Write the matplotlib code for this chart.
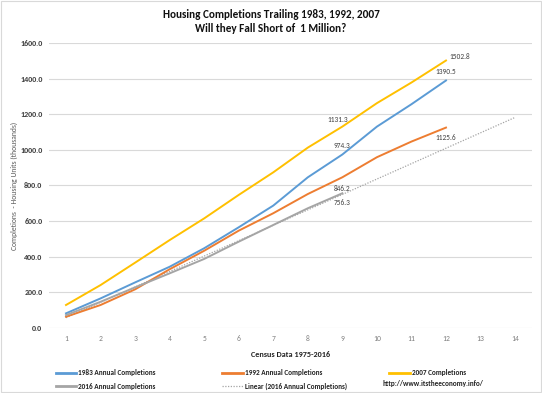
import numpy as np
import matplotlib.pyplot as plt
from matplotlib.lines import Line2D
from matplotlib.patches import Rectangle

plt.rcParams['font.family'] = ['Carlito', 'Lato', 'DejaVu Sans']

# --- datos (miles de viviendas, acumulado) ---
years = np.arange(1, 13)
c1983 = [81, 165, 255, 343, 447, 565, 687, 846, 974.3, 1131, 1257, 1390.5]
c1992 = [62, 128, 216, 329, 433, 546, 644, 752, 846.2, 959, 1047, 1125.6]
c2007 = [128, 240, 366, 493, 615, 747, 874, 1013, 1131.3, 1263, 1379, 1502.8]
years_2016 = np.arange(1, 10)
c2016 = [71, 146, 227, 306, 387, 484, 578, 672, 756.3]
trend_x = np.arange(1, 15)

blue = '#5B9BD5'
orange = '#ED7D31'
yellow = '#FFC000'
gray = '#A5A5A5'
dotted = (0, (1, 1.2))

fig = plt.figure(figsize=(5.42, 3.93), dpi=100)
ax = fig.add_axes([0.0899, 0.166, 0.8923, 0.724])

# tendencia lineal de 2016
m, b = np.polyfit(years_2016, c2016, 1)
ax.plot(trend_x, m * trend_x + b, color=gray, lw=0.9, ls=dotted, zorder=2)

ax.plot(years, c1983, color=blue, lw=1.4, zorder=3)
ax.plot(years, c1992, color=orange, lw=1.4, zorder=3)
ax.plot(years, c2007, color=yellow, lw=1.4, zorder=3)
ax.plot(years_2016, c2016, color=gray, lw=1.4, zorder=3)

# etiquetas de valores
lab = dict(textcoords='offset pixels', fontsize=5.3, color='#404040', ha='center', va='center')
ax.annotate(f'{c2007[8]:.1f}', (9, c2007[8]), xytext=(-5, 7), **lab)
ax.annotate(f'{c1983[8]:.1f}', (9, c1983[8]), xytext=(0, 9), **lab)
ax.annotate(f'{c1992[8]:.1f}', (9, c1992[8]), xytext=(0, -11), **lab)
ax.annotate(f'{c2016[8]:.1f}', (9, c2016[8]), xytext=(0, -9), **lab)
ax.annotate(f'{c2007[11]:.1f}', (12, c2007[11]), xytext=(14, 4), **lab)
ax.annotate(f'{c1983[11]:.1f}', (12, c1983[11]), xytext=(0, 9), **lab)
ax.annotate(f'{c1992[11]:.1f}', (12, c1992[11]), xytext=(0, -10), **lab)

ax.set_xlim(0.5, 14.5)
ax.set_ylim(0, 1600)
ax.set_xticks(trend_x)
ax.set_yticks(np.arange(0, 1601, 200))
ax.set_yticklabels([f'{v:.1f}' for v in np.arange(0, 1601, 200)],
                   fontsize=5.8, fontweight='bold', color='#404040')
ax.tick_params(axis='x', labelsize=5.5, labelcolor='#808080', length=0, pad=5.5)
ax.tick_params(axis='y', length=0, pad=4.5)
ax.grid(axis='y', color='#D9D9D9', lw=0.8)
ax.set_axisbelow(True)
for s in ax.spines.values():
    s.set_visible(False)

ax.set_xlabel('Census Data 1975-2016', fontsize=5.9, fontweight='bold', color='#222222', labelpad=6.5)
ax.set_ylabel('Completions  - Housing Units (thousands)', fontsize=5.5, color='#595959')
ax.yaxis.set_label_coords(-0.0625, 0.5)

fig.text(0.5, 0.9445, 'Housing Completions Trailing 1983, 1992, 2007\nWill they Fall Short of  1 Million?',
         ha='center', va='center', fontsize=8, fontweight='bold', color='#111111', linespacing=1.3)

# leyenda en tres columnas
leg_kw = dict(loc='upper left', frameon=False, handlelength=2.8,
              handletextpad=0.3, borderpad=0, labelspacing=0.9,
              prop={'weight': 'bold', 'size': 5.2})
cols = [
    ([Line2D([], [], color=blue, lw=2), Line2D([], [], color=gray, lw=2)],
     ['1983 Annual Completions', '2016 Annual Completions'], 0.0958),
    ([Line2D([], [], color=orange, lw=2), Line2D([], [], color=gray, lw=0.9, ls=dotted)],
     ['1992 Annual Completions', 'Linear (2016 Annual Completions)'], 0.4035),
    ([Line2D([], [], color=yellow, lw=2)], ['2007 Completions'], 0.7118),
]
for handles, labels, x0 in cols:
    lg = fig.legend(handles, labels, bbox_to_anchor=(x0, 0.069), **leg_kw)
    for t in lg.get_texts():
        t.set_color('#222222')
fig.text(0.7065, 0.023, 'http://www.itstheeconomy.info/', fontsize=5.2, fontweight='bold',
         color='#222222', va='center')

fig.add_artist(Rectangle((0.002, 0.003), 0.996, 0.994, transform=fig.transFigure,
                         fill=False, edgecolor='#D9D9D9', lw=0.8))

fig.savefig('out.png', dpi=100)
